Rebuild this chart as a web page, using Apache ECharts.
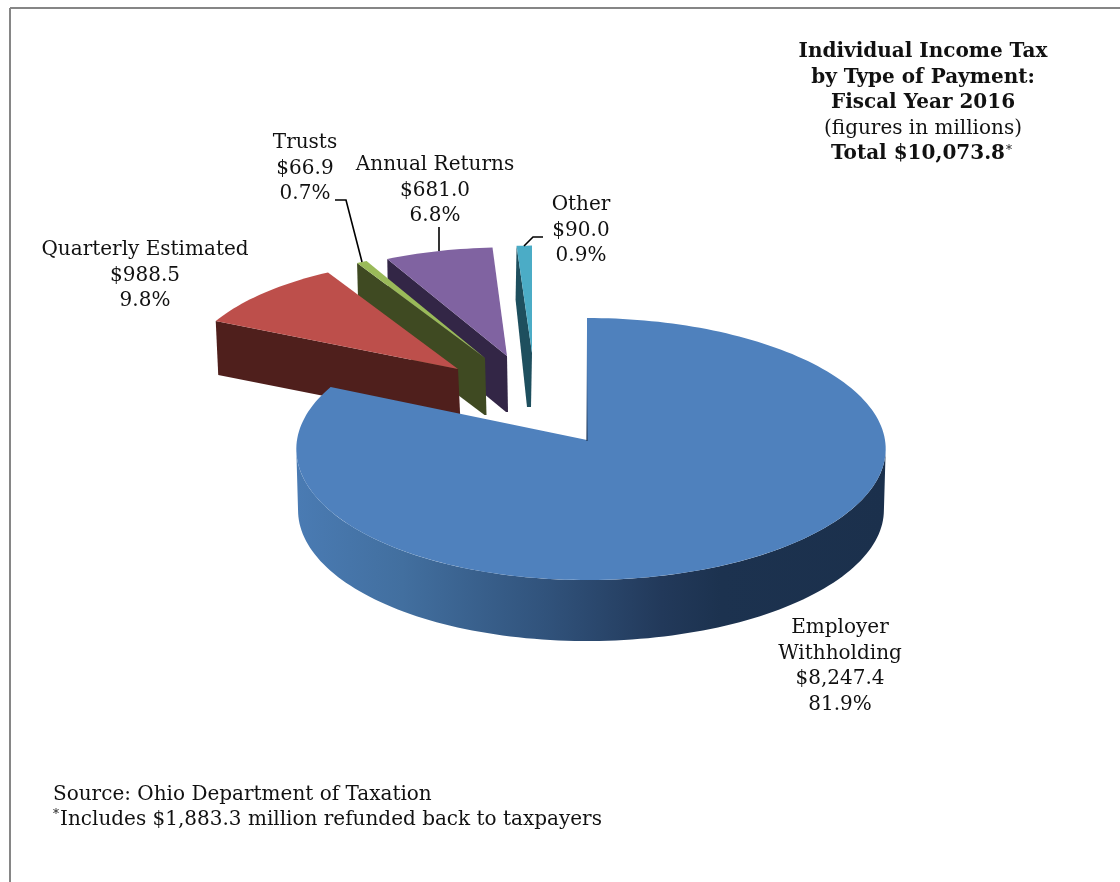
<!DOCTYPE html>
<html>
<head>
<meta charset="utf-8">
<title>Individual Income Tax by Type of Payment</title>
<style>html,body{margin:0;padding:0;background:#fff}#chart{width:1120px;height:882px}</style>
<script src="https://cdn.jsdelivr.net/npm/echarts@6/dist/echarts.min.js"></script>
</head>
<body>
<div id="chart"></div>
<script>
// Collections in $ millions, clockwise from twelve o'clock
const categories = ['Employer Withholding', 'Quarterly Estimated', 'Trusts', 'Annual Returns', 'Other'];
const amounts = [8247.4, 988.5, 66.9, 681.0, 90.0];
const titleLines = ['Individual Income Tax', 'by Type of Payment:', 'Fiscal Year 2016', '(figures in millions)', 'Total $10,073.8'];
const noteLines = ['Source: Ohio Department of Taxation', 'Includes $1,883.3 million refunded back to taxpayers'];

const SERIF = '"DejaVu Serif",serif';
const total = amounts.reduce((a, b) => a + b, 0);

// Disc projection: tilted ellipse with mild perspective towards the viewer
const DISC = { rx: 294, ry: 130.4, persp: 0.0687, skew: 4 };

// Placement of each wedge once pulled out of the disc
const wedges = [
  { ax: 587, ay: 440, kx: 1, ky: 1, depth: 61, dx: 0, tip: 0, top: '#4f81bd', side: null },
  { ax: 458, ay: 369, kx: 0.945, ky: 0.905, depth: 54, dx: 2.5, tip: 0, top: '#bd4f4b', side: '#4f1f1c' },
  { ax: 485, ay: 358, kx: 0.93, ky: 0.89, depth: 57, dx: 1.5, tip: 2, top: '#9aba59', side: '#3f4a22' },
  { ax: 507, ay: 356, kx: 0.94, ky: 0.89, depth: 56, dx: 1, tip: 2, top: '#8063a1', side: '#332646' },
  { ax: 532, ay: 353, kx: 1, ky: 0.88, depth: 54, dx: -1, tip: 4, top: '#4bacc6', side: '#1e4f5e' }
];

// Slice labels: centre x, first line y, and optional leader line
const labelSpots = [
  { x: 840, y: 628, lines: 2 },
  { x: 145, y: 250 },
  { x: 305, y: 143, leader: [[335, 200], [346, 200], [362, 262]] },
  { x: 435, y: 165, leader: [[439, 227], [439, 251]] },
  { x: 581, y: 205, leader: [[543, 237], [533, 237], [524, 246]] }
];

function rimPoint(w, deg) {
  const a = deg * Math.PI / 180, u = Math.sin(a), v = -Math.cos(a), s = 1 - DISC.persp * v;
  return [w.ax + w.kx * (DISC.rx * u + DISC.skew * u * u) / s, w.ay + w.ky * DISC.ry * v / s];
}
function arc(w, from, to) {
  const pts = [], n = Math.max(2, Math.ceil(Math.abs(to - from) / 1.5));
  for (let i = 0; i <= n; i++) pts.push(rimPoint(w, from + (to - from) * i / n));
  return pts;
}

// Cumulative sweep per slice, in degrees
const sweeps = [];
amounts.reduce((acc, v) => { const next = acc + v / total * 360; sweeps.push([acc, next]); return next; }, 0);

function renderWedge(params, api) {
  const i = api.value(0), value = api.value(1), w = wedges[i];
  const [a0, a1] = sweeps[i];
  const children = [];
  if (i === 0) {
    // Outer wall of the large slice, between the tangent points of the rim
    const upper = arc(w, 94, 266);
    const lower = upper.map(p => [w.ax + (p[0] - w.ax) * 0.994, p[1] + w.depth]).reverse();
    children.push({ type: 'polygon', shape: { points: upper.concat(lower) }, style: {
      fill: { type: 'linear', x: 0, y: 0, x2: 1, y2: 0, colorStops: [
        { offset: 0, color: '#4a7bb3' }, { offset: 0.18, color: '#426f9f' }, { offset: 0.42, color: '#31537c' },
        { offset: 0.62, color: '#22395a' }, { offset: 0.72, color: '#1c324f' }, { offset: 1, color: '#1b304c' }] }
    } });
  } else {
    // Cut face of an exploded wedge
    const outer = rimPoint(w, a0);
    children.push({ type: 'polygon', shape: { points: [
      [w.ax, w.ay], outer, [outer[0] + w.dx, outer[1] + w.depth],
      [w.ax + w.dx - w.tip, w.ay + w.depth], [w.ax + w.dx, w.ay + w.depth]
    ] }, style: { fill: w.side } });
  }
  children.push({ type: 'polygon', shape: { points: [[w.ax, w.ay]].concat(arc(w, a0, a1)) }, style: { fill: w.top } });
  if (i === 0) {
    // Sliver of the inner wall along the twelve o'clock edge
    children.push({ type: 'line', shape: { x1: w.ax, y1: w.ay + 1, x2: w.ax, y2: w.ay - 110 }, style: {
      lineWidth: 1.2,
      stroke: { type: 'linear', x: 0, y: 0, x2: 0, y2: 1, global: false, colorStops: [
        { offset: 0, color: 'rgba(79,129,189,0)' }, { offset: 1, color: '#1c324f' }] }
    } });
  }
  // Label text and leader
  const spot = labelSpots[i];
  const name = categories[i];
  const nameLines = spot.lines === 2 ? name.split(' ') : [name];
  const text = nameLines.concat(['$' + value.toLocaleString('en-US', { minimumFractionDigits: 1, maximumFractionDigits: 1 }),
    (value / total * 100).toFixed(1) + '%']);
  text.forEach((t, k) => children.push({ type: 'text', style: {
    text: t, x: spot.x, y: spot.y + k * 25.6, align: 'center', verticalAlign: 'middle',
    font: '20px ' + SERIF, fill: '#111' } }));
  if (spot.leader) {
    children.push({ type: 'polyline', shape: { points: spot.leader }, style: { stroke: '#000', lineWidth: 1.6, fill: null } });
  }
  return { type: 'group', children };
}

// Farther wedges are painted first so nearer ones overlap them
const paintOrder = categories.map((_, i) => i).reverse();

function textEl(text, x, y, font, align) {
  return { type: 'text', style: { text, x, y, font, align: align || 'center', verticalAlign: 'middle', fill: '#111' } };
}

const chart = echarts.init(document.getElementById('chart'), null, { renderer: 'canvas' });
chart.setOption({
  animation: false,
  backgroundColor: '#fff',
  series: [{
    type: 'custom',
    coordinateSystem: 'none',
    renderItem: renderWedge,
    data: paintOrder.map(i => ({ name: categories[i], value: [i, amounts[i]] })),
    silent: true
  }],
  graphic: { elements: [
    { type: 'line', shape: { x1: 10, y1: 8, x2: 1120, y2: 8 }, style: { stroke: '#868686', lineWidth: 2 } },
    { type: 'line', shape: { x1: 10, y1: 8, x2: 10, y2: 882 }, style: { stroke: '#868686', lineWidth: 2 } },
    textEl(titleLines[0], 923, 52, 'bold 20px ' + SERIF),
    textEl(titleLines[1], 923, 78, 'bold 20px ' + SERIF),
    textEl(titleLines[2], 923, 103, 'bold 20px ' + SERIF),
    textEl(titleLines[3], 923, 129, '20px ' + SERIF),
    textEl(titleLines[4], 918, 154, 'bold 20px ' + SERIF),
    textEl('*', 1006, 151, '12px ' + SERIF, 'left'),
    textEl(noteLines[0], 53, 795, '20px ' + SERIF, 'left'),
    textEl('*', 53, 815, '12px ' + SERIF, 'left'),
    textEl(noteLines[1], 60, 820, '20px ' + SERIF, 'left')
  ] }
});
</script>
</body>
</html>
